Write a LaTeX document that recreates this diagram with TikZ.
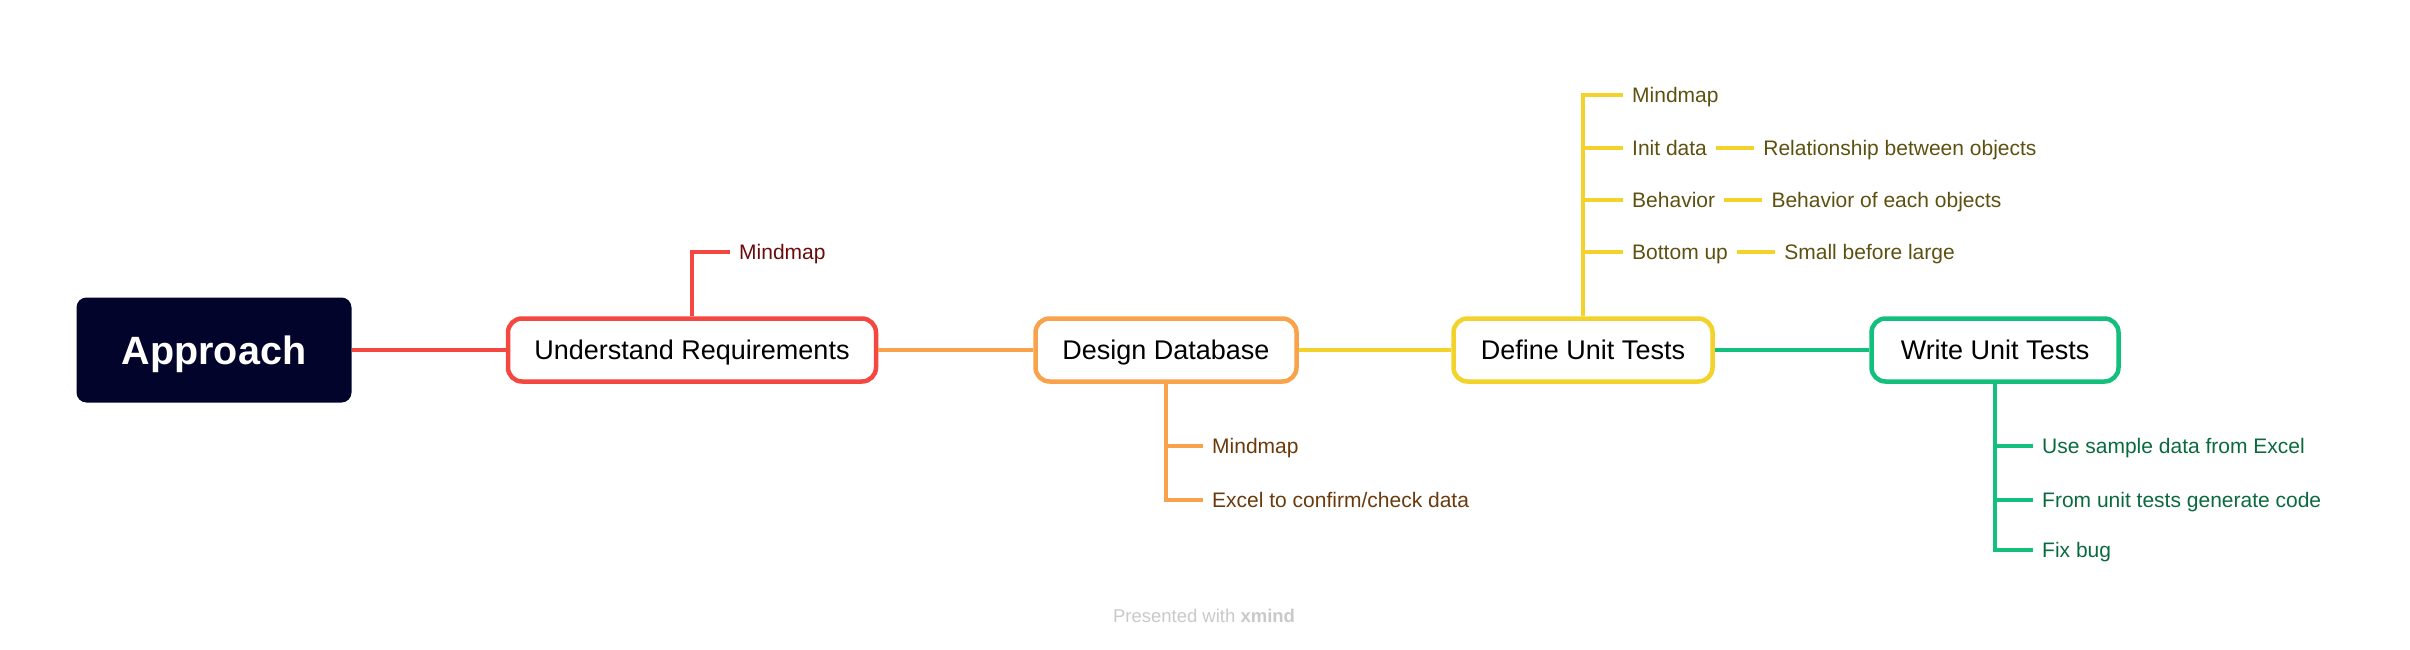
\documentclass[tikz,border=0pt]{standalone}
\usepackage{fontspec}
\setmainfont{Liberation Sans}
\usetikzlibrary{positioning}
\definecolor{navy}{HTML}{02042B}
\definecolor{redline}{HTML}{F4473F}
\definecolor{orangeline}{HTML}{F9A24C}
\definecolor{yellowline}{HTML}{F3D22B}
\definecolor{greenline}{HTML}{12BF7D}
\definecolor{redtext}{HTML}{6B0C0C}
\definecolor{orangetext}{HTML}{6B3A0C}
\definecolor{yellowtext}{HTML}{5E5010}
\definecolor{greentext}{HTML}{0A6A3E}
\definecolor{footgray}{HTML}{C9C9C9}
\tikzset{
	root/.style={fill=navy, rounded corners=10pt, minimum width=275pt, minimum height=105pt, inner ysep=0pt, text height=28pt, text depth=0pt, text=white, font=\fontsize{39.5}{44}\selectfont\bfseries},
	topic/.style={draw=#1, fill=white, line width=4.5pt, rounded corners=14pt, minimum height=63pt, inner xsep=0pt, inner ysep=0pt, text height=19.4pt, text depth=0pt, font=\fontsize{27}{30}\selectfont},
	leaf/.style={anchor=west, inner xsep=9pt, inner ysep=0pt, text height=15pt, text depth=0pt, text=#1, font=\fontsize{21}{24}\selectfont},
	mainline/.style={draw=#1, line width=4.5pt},
	branch/.style={draw=#1, line width=3.2pt},
}

\begin{document}
\begin{tikzpicture}[x=1pt, y=-1pt]
				\useasboundingbox (0,0) rectangle (2410,649);
				
				\node[root] (app) at (214,350) {Approach};
				\node[topic=redline, minimum width=368pt] (ur) at (692,350) {Understand Requirements};
				\node[topic=orangeline, minimum width=261pt] (dd) at (1166,350) {Design Database};
				\node[topic=yellowline, minimum width=259pt] (dut) at (1583,350) {Define Unit Tests};
				\node[topic=greenline, minimum width=247pt] (wut) at (1995,350) {Write Unit Tests};
				
				\draw[mainline=redline] (app.east) -- (ur.west);
				\draw[mainline=orangeline] (ur.east) -- (dd.west);
				\draw[mainline=yellowline] (dd.east) -- (dut.west);
				\draw[mainline=greenline] (dut.east) -- (wut.west);
				
				\node[leaf=redtext] (ur1) at (730,252) {Mindmap};
				\draw[branch=redline] (ur.north) |- (ur1.west);
				
				\node[leaf=orangetext] (dd1) at (1203,446) {Mindmap};
				\node[leaf=orangetext] (dd2) at (1203,500) {Excel to confirm/check data};
				\draw[branch=orangeline] (dd.south) |- (dd1.west);
				\draw[branch=orangeline] (dd.south) |- (dd2.west);
				
				\node[leaf=yellowtext] (dut1) at (1623,95) {Mindmap};
				\node[leaf=yellowtext] (dut2) at (1623,148) {Init data};
				\node[leaf=yellowtext] (dut3) at (1623,200) {Behavior};
				\node[leaf=yellowtext] (dut4) at (1623,252) {Bottom up};
				\node[leaf=yellowtext, right=38pt of dut2] (dut2a) {Relationship between objects};
				\node[leaf=yellowtext, right=38pt of dut3] (dut3a) {Behavior of each objects};
				\node[leaf=yellowtext, right=38pt of dut4] (dut4a) {Small before large};
				\draw[branch=yellowline] (dut.north) |- (dut1.west);
				\draw[branch=yellowline] (dut.north) |- (dut2.west);
				\draw[branch=yellowline] (dut.north) |- (dut3.west);
				\draw[branch=yellowline] (dut.north) |- (dut4.west);
				\draw[branch=yellowline] (dut2.east) -- (dut2a.west);
				\draw[branch=yellowline] (dut3.east) -- (dut3a.west);
				\draw[branch=yellowline] (dut4.east) -- (dut4a.west);
				
				\node[leaf=greentext] (wut1) at (2033,446) {Use sample data from Excel};
				\node[leaf=greentext] (wut2) at (2033,500) {From unit tests generate code};
				\node[leaf=greentext] (wut3) at (2033,550) {Fix bug};
				\draw[branch=greenline] (wut.south) |- (wut1.west);
				\draw[branch=greenline] (wut.south) |- (wut2.west);
				\draw[branch=greenline] (wut.south) |- (wut3.west);
				
				\node[text=footgray, font=\fontsize{18.5}{20}\selectfont] (foot) at (1204,616) {Presented with \textbf{xmind}};
			\end{tikzpicture}
\end{document}
